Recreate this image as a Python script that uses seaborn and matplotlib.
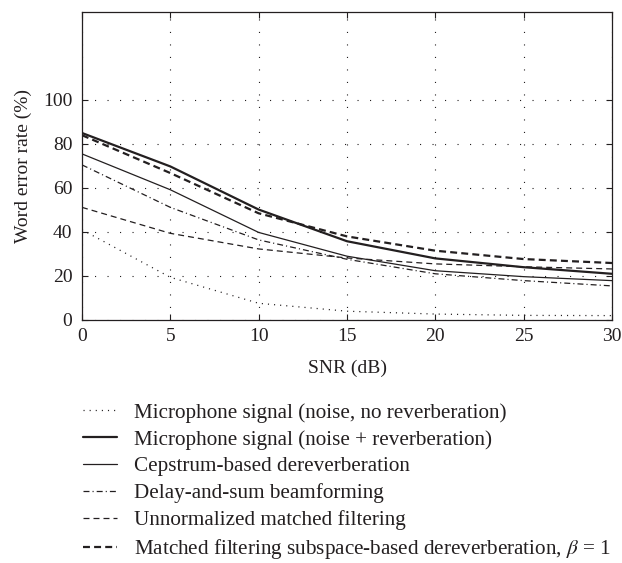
import matplotlib
matplotlib.use("Agg")
import matplotlib.pyplot as plt
import seaborn as sns
import numpy as np

snr = [0, 5, 10, 15, 20, 25, 30]
mic_no_reverb = [41.0, 19.4, 7.6, 4.0, 2.7, 2.1, 2.0]
mic_reverb = [85.0, 69.8, 50.2, 35.8, 28.0, 24.0, 21.0]
cepstrum = [75.5, 59.2, 39.8, 29.0, 22.4, 19.7, 17.9]
delay_sum = [70.5, 51.2, 36.4, 27.6, 21.0, 17.9, 15.5]
unnormalized = [51.2, 39.4, 32.3, 28.2, 25.5, 24.2, 23.2]
subspace = [84.0, 66.8, 48.5, 38.0, 31.5, 27.7, 25.9]

labels = [
    "Microphone signal (noise, no reverberation)",
    "Microphone signal (noise + reverberation)",
    "Cepstrum-based dereverberation",
    "Delay-and-sum beamforming",
    "Unnormalized matched filtering",
    r"Matched filtering subspace-based dereverberation, $\beta$ = 1",
]
series = [mic_no_reverb, mic_reverb, cepstrum, delay_sum, unnormalized, subspace]
xticks = [0, 5, 10, 15, 20, 25, 30]
yticks = [0, 20, 40, 60, 80, 100]

sns.set_style("ticks")
plt.rcParams["font.family"] = ["Liberation Serif", "DejaVu Serif"]
plt.rcParams["mathtext.fontset"] = "stix"
plt.rcParams["lines.scale_dashes"] = False

ink = "#231f20"
styles = [
    dict(lw=0.9, ls=(0, (0.8, 3.6))),
    dict(lw=1.6, ls="-"),
    dict(lw=0.9, ls="-"),
    dict(lw=0.9, ls=(0, (4.3, 2.2, 0.8, 2.2))),
    dict(lw=0.9, ls=(0, (4.3, 2.9))),
    dict(lw=1.6, ls=(0, (5.0, 3.0))),
]

fig = plt.figure(figsize=(6.22, 5.63), dpi=100)
ax = fig.add_axes([82 / 622, 1 - 320 / 563, 530 / 622, 308 / 563])

for vals, lab, st in zip(series, labels, styles):
    sns.lineplot(x=snr, y=vals, ax=ax, color=ink, linewidth=st["lw"],
                 linestyle=st["ls"], label=lab, legend=False)

ax.set_xlim(0, 30)
ax.set_ylim(0, 140)
ax.set_xticks(xticks)
ax.set_yticks(yticks)
ax.grid(True, color=ink, linestyle=(0, (0.8, 8.2)), linewidth=0.8)
for s in ax.spines.values():
    s.set_color(ink)
    s.set_linewidth(0.9)
ax.tick_params(direction="in", length=4, width=0.8, colors=ink,
               top=True, right=True, labelsize=14)
ax.tick_params(axis="x", pad=6)
ax.tick_params(axis="y", pad=7)
ax.set_xlabel("SNR (dB)", fontsize=14, color=ink, labelpad=10)
ax.set_ylabel("Word error rate (%)", fontsize=14, color=ink, labelpad=8)

handles, labs = ax.get_legend_handles_labels()
fig.legend(handles, labs, loc="upper left",
           bbox_to_anchor=(83 / 622, 1 - 403 / 563), frameon=False,
           fontsize=15.2, handlelength=1.6, handletextpad=0.8,
           labelspacing=0.33, borderpad=0, borderaxespad=0, labelcolor=ink)

fig.savefig("out.png", dpi=100)
